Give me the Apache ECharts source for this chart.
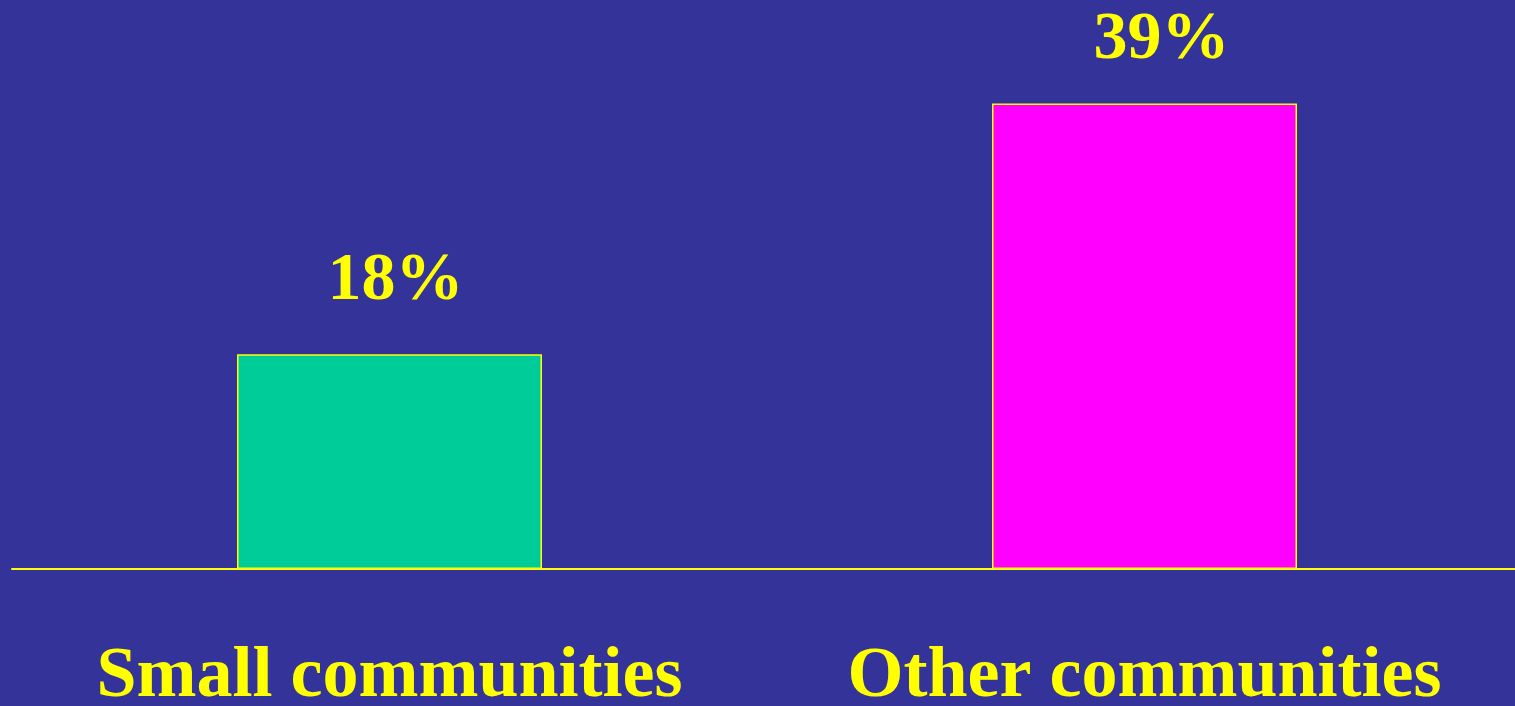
<!DOCTYPE html>
<html>
<head>
<meta charset="utf-8">
<script src="https://cdn.jsdelivr.net/npm/echarts@6/dist/echarts.min.js"></script>
<style>html,body{margin:0;padding:0;background:#333399;}#c{width:1515px;height:706px;}</style>
</head>
<body>
<div id="c"></div>
<script>
const categories = ["Small communities", "Other communities"];
const values = [18, 39];
const barColors = ["#00CC99", "#FF00FF"];

const labelDistance = [39, 29];
const labelOffsetX = [6, 17];

const chart = echarts.init(document.getElementById('c'), null, {renderer: 'canvas'});
chart.setOption({
  backgroundColor: '#333399',
  animation: false,
  grid: {left: 12, right: -7, top: 32, bottom: 137, containLabel: false, outerBoundsMode: 'none'},
  xAxis: {
    type: 'category',
    data: categories,
    axisLine: {show: true, lineStyle: {color: '#FFFF00', width: 2}},
    axisTick: {show: false},
    axisLabel: {
      color: '#FFFF00',
      fontFamily: 'Liberation Serif',
      fontWeight: 'bold',
      fontSize: 72,
      margin: 72,
      interval: 0
    }
  },
  yAxis: {
    type: 'value', min: 0, max: 45,
    show: false,
    splitLine: {show: false}
  },
  series: [{
    type: 'bar',
    data: values.map((v, i) => ({
      value: v,
      itemStyle: {color: barColors[i]},
      label: {distance: labelDistance[i], offset: [labelOffsetX[i], 0]}
    })),
    barWidth: 305,
    itemStyle: {borderColor: '#FFFF00', borderWidth: 1.5},
    label: {
      show: true,
      position: 'top',
      formatter: p => p.value + '%',
      color: '#FFFF00',
      fontFamily: 'Liberation Serif',
      fontWeight: 'bold',
      fontSize: 68
    }
  }]
});
</script>
</body>
</html>
